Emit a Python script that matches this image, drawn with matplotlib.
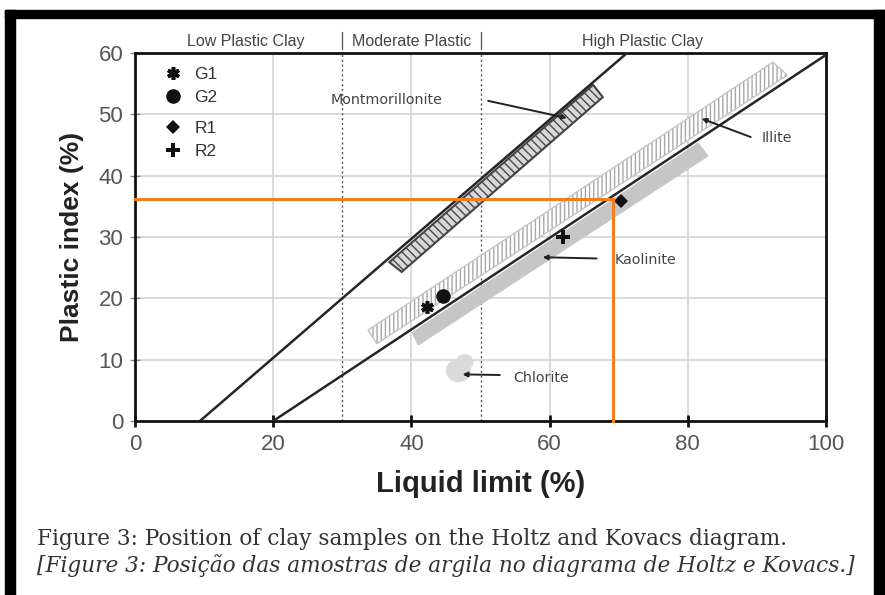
import matplotlib
matplotlib.use("Agg")
import matplotlib.pyplot as plt
from matplotlib.patches import Polygon, Ellipse, Rectangle
from matplotlib.lines import Line2D

# --- data -------------------------------------------------------------
# Holtz & Kovacs reference lines (liquid limit, plastic index)
u_line_ll = [9.4, 71.2]
u_line_pi = [0.0, 60.0]
a_line_ll = [20.0, 100.0]
a_line_pi = [0.0, 59.7]

# clay-mineral zones (corner points: liquid limit, plastic index)
montmorillonite_ll = [36.8, 38.6, 67.7, 66.3]
montmorillonite_pi = [25.9, 24.3, 52.8, 54.8]
illite_ll = [33.7, 35.0, 94.4, 92.3]
illite_pi = [14.8, 12.6, 56.4, 58.5]
kaolinite_ll = [40.1, 41.0, 82.9, 81.5]
kaolinite_pi = [14.4, 12.4, 43.2, 45.3]
chlorite_ll = [46.8, 47.7]
chlorite_pi = [8.2, 9.6]

# samples
sample_names = ["G1", "G2", "R1", "R2"]
sample_ll = [42.3, 44.6, 70.4, 62.0]
sample_pi = [18.6, 20.3, 35.8, 30.0]

# guide lines to sample R1
guide_ll = 69.2
guide_pi = 36.2

# plasticity classes along the liquid-limit axis
class_bounds = [30, 50]
class_names = ["Low Plastic Clay", "Moderate Plastic", "High Plastic Clay"]
class_centers = [16.0, 40.0, 73.4]

x_ticks = [0, 20, 40, 60, 80, 100]
y_ticks = [0, 10, 20, 30, 40, 50, 60]

W, H = 885, 595
fig = plt.figure(figsize=(W / 100, H / 100), dpi=100)
fig.patch.set_facecolor("white")

# black frame around the figure
for (x0, y0, w, h) in [(5, 0, 10, 585), (5, 577, 880, 8), (874, 0, 11, 585)]:
    fig.patches.append(Rectangle((x0 / W, y0 / H), w / W, h / H,
                                 transform=fig.transFigure, color="black",
                                 zorder=0))

ax = fig.add_axes([135 / W, 1 - 421 / H, 691 / W, 368 / H])
ax.set_xlim(0, 100)
ax.set_ylim(0, 60)

# grid
for gx in [20, 40, 60, 80]:
    ax.axvline(gx, color="#d4d4d4", lw=1.2, zorder=0)
for gy in [10, 20, 30, 40, 50]:
    ax.axhline(gy, color="#d4d4d4", lw=1.2, zorder=0)
for b in class_bounds:
    ax.axvline(b, color="#555555", lw=1.0, ls=(0, (1.5, 2.0)), zorder=0.5)
    ax.plot([b, b], [60.6, 63.4], color="#555555", lw=0.9, clip_on=False)

for name, cx in zip(class_names, class_centers):
    ax.text(cx, 61.9, name, ha="center", va="center", fontsize=11.5,
            family="Liberation Sans", color="#444444", clip_on=False)

# montmorillonite zone
mont = list(zip(montmorillonite_ll, montmorillonite_pi))
ax.add_patch(Polygon(mont, closed=True, facecolor="#d8d8d8", edgecolor="#4a4a4a",
                     hatch="\\\\\\\\", lw=0, zorder=2))
ax.add_patch(Polygon(mont, closed=True, fill=False, edgecolor="#444444",
                     lw=1.5, zorder=2.1))

# illite zone
ill = list(zip(illite_ll, illite_pi))
ax.add_patch(Polygon(ill, closed=True, facecolor="white", edgecolor="#a8a8a8",
                     hatch="||||", lw=0, zorder=2))
ax.add_patch(Polygon(ill, closed=True, fill=False, edgecolor="#c4c4c4",
                     lw=1.0, zorder=2.1))

# kaolinite zone
ax.add_patch(Polygon(list(zip(kaolinite_ll, kaolinite_pi)), closed=True,
                     facecolor="#c6c6c6", edgecolor="#c6c6c6", lw=0.8, zorder=2.2))

# chlorite zone
ax.add_patch(Ellipse((chlorite_ll[0], chlorite_pi[0]), 3.6, 3.8,
                     facecolor="#dadada", edgecolor="none", zorder=2))
ax.add_patch(Ellipse((chlorite_ll[1], chlorite_pi[1]), 2.6, 2.6,
                     facecolor="#dadada", edgecolor="none", zorder=2))

# reference lines
ax.plot(u_line_ll, u_line_pi, color="#262626", lw=1.8, zorder=3)
ax.plot(a_line_ll, a_line_pi, color="#262626", lw=1.8, zorder=3)

# sample markers
styles = {
    "G1": dict(marker=(6, 2, 0), ms=9, mew=2.6),
    "G2": dict(marker="o", ms=10.5, mew=0),
    "R1": dict(marker="D", ms=7.5, mew=0),
    "R2": dict(marker="P", ms=10.5, mew=0),
}
for n, x, y in zip(sample_names, sample_ll, sample_pi):
    ax.plot([x], [y], ls="none", color="#111111", mec="#111111", zorder=5,
            **styles[n])

# zone labels with arrows
arrow_kw = dict(arrowstyle="-|>", color="#222222", lw=1.4, mutation_scale=7,
                shrinkA=0, shrinkB=0)
notes = [
    ("Montmorillonite", (36.4, 52.3), (51.1, 52.2), (62.5, 49.4)),
    ("Illite", (92.9, 46.1), (89.1, 46.3), (82.0, 49.3)),
    ("Kaolinite", (73.9, 26.3), (66.8, 26.5), (59.0, 26.7)),
    ("Chlorite", (58.8, 7.0), (52.8, 7.5), (47.4, 7.6)),
]
for label, tpos, tail, head in notes:
    ax.text(*tpos, label, ha="center", va="center", fontsize=10.3,
            family="DejaVu Sans", color="#444444", zorder=4)
    ax.annotate("", xy=head, xytext=tail, arrowprops=arrow_kw, zorder=4)

# guide lines
ax.plot([0, guide_ll], [guide_pi, guide_pi], color="#f07f22", lw=2.2, zorder=6,
        clip_on=False)
ax.plot([guide_ll, guide_ll], [0, guide_pi], color="#f07f22", lw=2.2, zorder=6,
        clip_on=False)

# legend in two groups
def handle(n):
    return Line2D([], [], ls="none", color="#111111", mec="#111111", **styles[n])

leg_kw = dict(frameon=False, handlelength=1.0, handletextpad=0.75,
              borderpad=0, borderaxespad=0, labelspacing=0.45,
              prop={"family": "Liberation Sans", "size": 12.5})
leg1 = ax.legend([handle(n) for n in sample_names[:2]], sample_names[:2],
                 loc="upper left", bbox_to_anchor=(0.042, 0.962), **leg_kw)
for t in leg1.get_texts():
    t.set_color("#333333")
ax.add_artist(leg1)
leg2 = ax.legend([handle(n) for n in sample_names[2:]], sample_names[2:],
                 loc="upper left", bbox_to_anchor=(0.042, 0.815), **leg_kw)
for t in leg2.get_texts():
    t.set_color("#333333")

# axes styling
for s in ax.spines.values():
    s.set_linewidth(2.0)
    s.set_color("#111111")
ax.set_xticks(x_ticks)
ax.set_yticks(y_ticks)
ax.tick_params(axis="x", direction="inout", length=9, width=2, color="#111111",
               labelsize=16, labelcolor="#555555", pad=5)
ax.tick_params(axis="y", direction="inout", length=7, width=1, color="#888888",
               labelsize=16, labelcolor="#555555", pad=5)
for lab in ax.get_xticklabels() + ax.get_yticklabels():
    lab.set_family("Liberation Sans")

ax.set_xlabel("Liquid limit (%)", fontsize=21, fontweight="bold",
              family="Liberation Sans", color="#222222", labelpad=11)
ax.set_ylabel("Plastic index (%)", fontsize=19, fontweight="bold",
              family="Liberation Sans", color="#222222", labelpad=10)

# caption
fig.text(37 / W, 1 - 539 / H,
         "Figure 3: Position of clay samples on the Holtz and Kovacs diagram.",
         ha="left", va="center", fontsize=15.6, family="DejaVu Serif",
         color="#333333")
fig.text(37 / W, 1 - 566 / H,
         "[Figure 3: Posição das amostras de argila no diagrama de Holtz e Kovacs.]",
         ha="left", va="center", fontsize=15.6, family="DejaVu Serif",
         style="italic", color="#333333")

fig.savefig("out.png", dpi=100)
